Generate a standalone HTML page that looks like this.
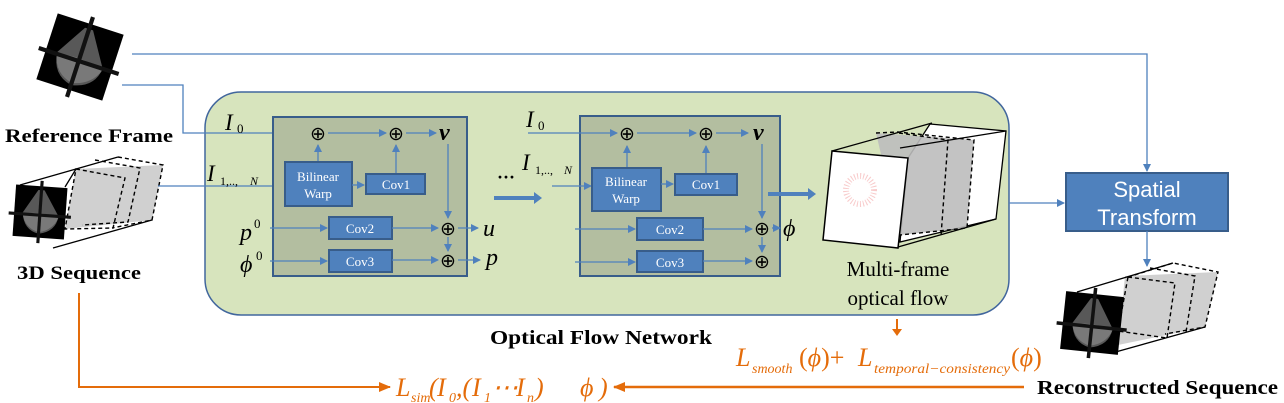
<!DOCTYPE html>
<html><head><meta charset="utf-8"><style>
html,body{margin:0;padding:0;background:#fff;}
svg{display:block;}
.ser{font-family:"Liberation Serif",serif;}
.bx{fill:#4f81bd;stroke:#385d8a;stroke-width:2;}
.bt{font-family:"Liberation Serif",serif;font-size:13px;fill:#fff;text-anchor:middle;}
.ln{stroke:#4f81bd;stroke-width:1.3;fill:none;}
.it{font-family:"Liberation Serif",serif;font-style:italic;fill:#000;}
.or{font-family:"Liberation Serif",serif;font-style:italic;fill:#e46c0a;}
.bl{font-family:"Liberation Serif",serif;font-weight:bold;}
</style></head><body>
<svg width="1284" height="403" viewBox="0 0 1284 403" xmlns="http://www.w3.org/2000/svg">
<defs>
<marker id="a" markerWidth="8" markerHeight="8" refX="7" refY="4" orient="auto" markerUnits="userSpaceOnUse"><path d="M0,0 L8,4 L0,8 z" fill="#4f81bd"/></marker>
<marker id="o" markerWidth="12" markerHeight="10" refX="11" refY="5" orient="auto" markerUnits="userSpaceOnUse"><path d="M0,0 L12,5 L0,10 z" fill="#e46c0a"/></marker>
<g id="brain">
<rect x="-33" y="-33" width="66" height="66" fill="#000"/>
<path d="M-4,-28 L-22,2 Q-20,24 0,28 Q22,24 24,4 L4,-28 Z" fill="#6e6e6e" opacity="0.8"/>
<path d="M-22,4 Q0,-2 24,6 Q18,22 0,26 Q-18,22 -22,4 Z" fill="#909090" opacity="0.6"/>
<rect x="-2" y="-40" width="4" height="80" fill="#111"/>
<rect x="-40" y="2" width="80" height="4" fill="#111"/>
</g>
</defs>

<!-- green panel -->
<rect x="205" y="92" width="804" height="223" rx="36" ry="36" fill="#d7e4bd" stroke="#41669d" stroke-width="1.5"/>

<!-- Reference frame image -->
<g transform="translate(80,57) rotate(18) scale(1.05)"><use href="#brain"/></g>
<text x="5" y="142" class="bl" font-size="19" textLength="168" lengthAdjust="spacingAndGlyphs">Reference Frame</text>

<!-- 3D sequence cube -->
<path d="M76,169 L163,165 L152,220 L65,229 Z" fill="#c8c8c8" opacity="0.85"/>
<g stroke="#000" stroke-width="1.3" fill="none">
<path d="M20,185 L118,157 M53,248 L152,220 M65,187 L76,169"/>
</g>
<g stroke="#000" stroke-width="1.4" fill="none" stroke-dasharray="4,3">
<path d="M76,169 L125,178 L113,228 L65,229 Z"/>
<path d="M95,160 L140,168 L128,222 L82,225"/>
<path d="M118,157 L163,165 L152,220 L112,228"/>
</g>
<g transform="translate(40,212) rotate(4) scale(0.78)"><use href="#brain"/></g>
<text x="17" y="279" class="bl" font-size="19" textLength="124" lengthAdjust="spacingAndGlyphs">3D Sequence</text>

<!-- top lines -->
<path d="M132,54 L1147,54 L1147,171" class="ln" marker-end="url(#a)"/>
<path d="M122,85 L183,85 L183,133 L310,133" class="ln" marker-end="url(#a)"/>
<path d="M158,186 L284,186" class="ln" marker-end="url(#a)"/>

<!-- Block 1 -->
<rect x="273" y="117" width="194" height="159" fill="#b3bea0" stroke="#385d8a" stroke-width="2"/>
<text x="225" y="130" class="it" font-size="23">I</text><text x="237" y="133" class="ser" font-size="13">0</text>
<text x="207" y="181" class="it" font-size="23">I</text><text x="220" y="185" class="ser" font-size="12">1,.., </text><text x="250" y="185" class="it" font-size="12">N</text>
<text x="240" y="240" class="it" font-size="24">p</text><text x="254" y="228" class="ser" font-size="13">0</text>
<text x="240" y="272" class="it" font-size="24">ϕ</text><text x="256" y="260" class="ser" font-size="13">0</text>

<text x="318" y="140" class="ser" font-size="19" text-anchor="middle">⊕</text>
<text x="396" y="140" class="ser" font-size="19" text-anchor="middle">⊕</text>
<text x="448" y="235" class="ser" font-size="19" text-anchor="middle">⊕</text>
<text x="448" y="267" class="ser" font-size="19" text-anchor="middle">⊕</text>
<path d="M328,133 L386,133" class="ln" marker-end="url(#a)"/>
<path d="M406,133 L436,133" class="ln" marker-end="url(#a)"/>
<text x="439" y="140" class="it" font-size="24" font-weight="bold">v</text>
<path d="M318,162 L318,145" class="ln" marker-end="url(#a)"/>
<path d="M396,173 L396,145" class="ln" marker-end="url(#a)"/>
<rect x="285" y="162" width="67" height="44" class="bx"/>
<text x="318" y="181" class="bt">Bilinear</text><text x="318" y="198" class="bt">Warp</text>
<path d="M352,185 L364,185" class="ln" marker-end="url(#a)"/>
<rect x="366" y="174" width="59" height="20" class="bx"/><text x="396" y="189" class="bt">Cov1</text>
<path d="M448,144 L448,218" class="ln" marker-end="url(#a)"/>
<path d="M270,228 L327,228" class="ln" marker-end="url(#a)"/>
<rect x="329" y="217" width="63" height="22" class="bx"/><text x="360" y="233" class="bt">Cov2</text>
<path d="M392,228 L438,228" class="ln" marker-end="url(#a)"/>
<path d="M270,261 L327,261" class="ln" marker-end="url(#a)"/>
<rect x="329" y="250" width="63" height="22" class="bx"/><text x="360" y="266" class="bt">Cov3</text>
<path d="M392,260 L438,260" class="ln" marker-end="url(#a)"/>
<path d="M448,237 L448,251" class="ln" marker-end="url(#a)"/>
<path d="M458,228 L478,228" class="ln" marker-end="url(#a)"/>
<path d="M458,260 L480,260" class="ln" marker-end="url(#a)"/>
<text x="483" y="236" class="it" font-size="24">u</text>
<text x="486" y="265" class="it" font-size="24">p</text>

<text x="497" y="183" class="ser" font-size="18" font-weight="bold">···</text>
<path d="M494,198 L536,198" stroke="#4f81bd" stroke-width="4" fill="none"/>
<path d="M534,192 L542,198 L534,204 z" fill="#4f81bd"/>

<!-- Block 2 -->
<rect x="580" y="116" width="200" height="160" fill="#b3bea0" stroke="#385d8a" stroke-width="2"/>
<text x="526" y="127" class="it" font-size="23">I</text><text x="538" y="130" class="ser" font-size="13">0</text>
<text x="522" y="170" class="it" font-size="23">I</text><text x="535" y="174" class="ser" font-size="12">1,.., </text><text x="564" y="174" class="it" font-size="12">N</text>
<text x="627" y="140" class="ser" font-size="19" text-anchor="middle">⊕</text>
<text x="706" y="140" class="ser" font-size="19" text-anchor="middle">⊕</text>
<text x="762" y="235" class="ser" font-size="19" text-anchor="middle">⊕</text>
<text x="762" y="268" class="ser" font-size="19" text-anchor="middle">⊕</text>
<path d="M528,133 L617,133" class="ln" marker-end="url(#a)"/>
<path d="M637,133 L696,133" class="ln" marker-end="url(#a)"/>
<path d="M716,133 L748,133" class="ln" marker-end="url(#a)"/>
<text x="753" y="140" class="it" font-size="24" font-weight="bold">v</text>
<path d="M627,168 L627,146" class="ln" marker-end="url(#a)"/>
<path d="M706,173 L706,146" class="ln" marker-end="url(#a)"/>
<path d="M552,186 L591,186" class="ln" marker-end="url(#a)"/>
<rect x="592" y="168" width="69" height="43" class="bx"/>
<text x="626" y="186" class="bt">Bilinear</text><text x="626" y="203" class="bt">Warp</text>
<path d="M661,184 L673,184" class="ln" marker-end="url(#a)"/>
<rect x="675" y="174" width="62" height="21" class="bx"/><text x="706" y="189" class="bt">Cov1</text>
<path d="M762,144 L762,218" class="ln" marker-end="url(#a)"/>
<path d="M575,229 L635,229" class="ln" marker-end="url(#a)"/>
<rect x="637" y="218" width="66" height="22" class="bx"/><text x="670" y="234" class="bt">Cov2</text>
<path d="M703,229 L752,229" class="ln" marker-end="url(#a)"/>
<path d="M575,262 L635,262" class="ln" marker-end="url(#a)"/>
<rect x="637" y="251" width="66" height="21" class="bx"/><text x="670" y="267" class="bt">Cov3</text>
<path d="M703,261 L752,261" class="ln" marker-end="url(#a)"/>
<path d="M762,237 L762,252" class="ln" marker-end="url(#a)"/>
<path d="M772,228 L780,228" class="ln" marker-end="url(#a)"/>
<text x="783" y="236" class="it" font-size="24">ϕ</text>
<path d="M768,194 L809,194" stroke="#4f81bd" stroke-width="4" fill="none"/>
<path d="M808,188 L816,194 L808,200 z" fill="#4f81bd"/>

<!-- flow cube -->
<path d="M930,124 L1006,131 L996,219 L900,242 L908,158 Z" fill="#fff" stroke="#000" stroke-width="1.3"/>
<path d="M876,133 L974,140 L967,228 L900,235 Z" fill="#bdbdbd" opacity="0.9"/>
<g stroke="#000" stroke-width="1.4" fill="none" stroke-dasharray="4,3">
<path d="M876,133 L898,132 L974,140 L967,228 L900,235"/>
<path d="M899,133 L948,140 L941,236"/>
</g>
<path d="M832,151 L932,123 M900,148 L1006,131 M898,247 L996,219" stroke="#000" stroke-width="1.3"/>
<path d="M832,151 L908,158 L898,248 L823,240 Z" fill="#fff" stroke="#000" stroke-width="1.5"/>
<circle cx="860" cy="190" r="14" fill="none" stroke="#f4a8a8" stroke-width="6" stroke-dasharray="1,2" opacity="0.6"/>
<text x="898" y="276" class="ser" font-size="21" text-anchor="middle">Multi-frame</text>
<text x="898" y="305" class="ser" font-size="21" text-anchor="middle">optical flow</text>

<!-- spatial transform -->
<path d="M1009,203 L1064,203" class="ln" marker-end="url(#a)"/>
<rect x="1066" y="173" width="162" height="58" fill="#4f81bd" stroke="#385d8a" stroke-width="2"/>
<text x="1147" y="197" font-family="Liberation Sans,sans-serif" font-size="22" fill="#fff" text-anchor="middle">Spatial</text>
<text x="1147" y="225" font-family="Liberation Sans,sans-serif" font-size="22" fill="#fff" text-anchor="middle">Transform</text>
<path d="M1147,231 L1147,266" class="ln" marker-end="url(#a)"/>

<!-- reconstructed cube -->
<path d="M1125,276 L1218,272 L1205,327 L1118,345 Z" fill="#c8c8c8" opacity="0.85"/>
<g stroke="#000" stroke-width="1.3" fill="none">
<path d="M1077,292 L1173,263 M1112,353 L1205,327"/>
</g>
<g stroke="#000" stroke-width="1.4" fill="none" stroke-dasharray="4,3">
<path d="M1128,277 L1173,263 L1218,272 L1205,327 L1165,334"/>
<path d="M1128,277 L1175,283 L1167,338 L1118,331 Z"/>
<path d="M1150,268 L1195,276 L1186,332"/>
</g>
<g transform="translate(1092,323) rotate(6) scale(0.88)"><use href="#brain"/></g>
<text x="1037" y="394" class="bl" font-size="20" textLength="241" lengthAdjust="spacingAndGlyphs">Reconstructed Sequence</text>

<!-- labels / losses -->
<text x="490" y="344" class="bl" font-size="20" textLength="222" lengthAdjust="spacingAndGlyphs">Optical Flow Network</text>
<path d="M897,319 L897,332" stroke="#e46c0a" stroke-width="2"/>
<path d="M892,329 L897,336 L902,329 z" fill="#e46c0a"/>
<text x="736" y="366" class="or" font-size="26">L</text>
<text x="752" y="373" class="or" font-size="14">smooth</text>
<text x="799" y="366" class="or" font-size="26"><tspan font-style="normal">(</tspan>ϕ<tspan font-style="normal">)+</tspan></text>
<text x="858" y="366" class="or" font-size="26">L</text>
<text x="874" y="373" class="or" font-size="14" textLength="136" lengthAdjust="spacingAndGlyphs">temporal−consistency</text>
<text x="1011" y="366" class="or" font-size="26"><tspan font-style="normal">(</tspan>ϕ<tspan font-style="normal">)</tspan></text>

<path d="M79,293 L79,387 L390,387" stroke="#e46c0a" stroke-width="2" fill="none" marker-end="url(#o)"/>
<path d="M1024,387 L614,387" stroke="#e46c0a" stroke-width="2.5" fill="none" marker-end="url(#o)"/>
<text x="396" y="396" class="or" font-size="26">L</text>
<text x="411" y="402" class="or" font-size="14">sim</text>
<text x="429" y="396" class="or" font-size="26" font-style="normal">(</text>
<text x="437" y="396" class="or" font-size="26">I</text>
<text x="449" y="402" class="or" font-size="14" font-style="normal">0</text>
<text x="456" y="396" class="or" font-size="26" font-style="normal">,(</text>
<text x="472" y="396" class="or" font-size="26">I</text>
<text x="484" y="402" class="or" font-size="14" font-style="normal">1</text>
<text x="492" y="396" class="or" font-size="26" font-style="normal">⋯</text>
<text x="516" y="396" class="or" font-size="26">I</text>
<text x="527" y="402" class="or" font-size="14">n</text>
<text x="535" y="396" class="or" font-size="26" font-style="normal">)</text>
<text x="580" y="396" class="or" font-size="26">ϕ</text>
<text x="599" y="396" class="or" font-size="26" font-style="normal">)</text>
</svg>
</body></html>
